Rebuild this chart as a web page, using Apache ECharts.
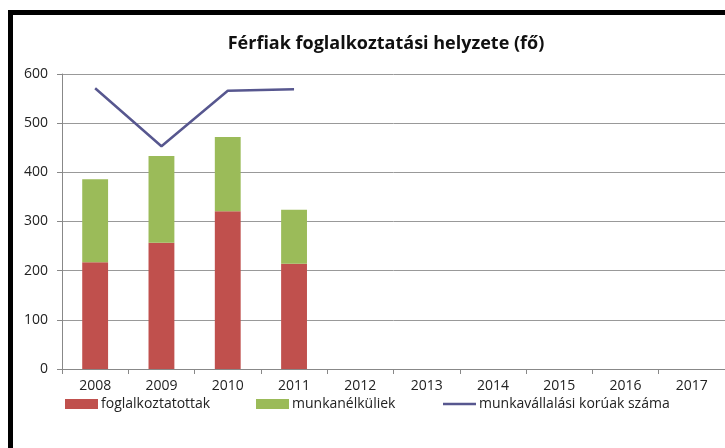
<!DOCTYPE html>
<html>
<head>
<meta charset="utf-8">
<script src="https://cdn.jsdelivr.net/npm/echarts@6/dist/echarts.min.js"></script>
<style>
  html, body { margin: 0; padding: 0; background: #fff; }
  #main { width: 725px; height: 448px; }
  /* fekete keret bal oldalon és fent */
  #frame { position: absolute; left: 8px; top: 10px; width: 740px; height: 460px;
           border-left: 5px solid #000; border-top: 5px solid #000; pointer-events: none; }
</style>
</head>
<body>
<div id="main"></div>
<div id="frame"></div>
<script>
// adatok
const years = ['2008', '2009', '2010', '2011', '2012', '2013', '2014', '2015', '2016', '2017']
const foglalkoztatottak = [217, 257, 321, 214, null, null, null, null, null, null]
const munkanelkuliek = [169, 176, 151, 110, null, null, null, null, null, null]
const korualkuak = [571, 453, 566, 569, null, null, null, null, null, null]
const yTicks = [0, 100, 200, 300, 400, 500, 600]

const font = "'Open Sans', 'Noto Sans', sans-serif"
const labelStyle = { fontFamily: font, fontSize: 14, color: '#222' }
const myChart = echarts.init(document.getElementById('main'))

// egy jelmagyarázat elem, külön pozícióval
const legendItem = (name, left, h) => ({
    left: left,
    top: 402 - 10,
    itemWidth: 33,
    itemHeight: h,
    itemGap: 0,
    textStyle: Object.assign({}, labelStyle, { padding: [0, 0, 0, -2] }),
    data: [{ name: name, icon: 'rect' }]
})

myChart.setOption({
    animation: false,
    title: {
        text: 'Férfiak foglalkoztatási helyzete (fő)',
        left: 381,
        top: 30,
        textAlign: 'center',
        textStyle: { fontFamily: font, fontSize: 18, fontWeight: 'bold', color: '#111' }
    },
    legend: [
        legendItem('foglalkoztatottak', 60, 10),
        legendItem('munkanélküliek', 251, 10),
        legendItem('munkavállalási korúak száma', 438, 2.5)
    ],
    grid: { left: 62, right: -8, top: 74, bottom: 79 },
    xAxis: {
        type: 'category',
        data: years,
        axisLine: { lineStyle: { color: '#888' } },
        axisTick: { show: true, length: 5, lineStyle: { color: '#888' } },
        axisLabel: Object.assign({ margin: 10 }, labelStyle)
    },
    yAxis: {
        type: 'value',
        min: yTicks[0],
        max: yTicks[yTicks.length - 1],
        interval: 100,
        axisLine: { show: true, lineStyle: { color: '#888' } },
        axisTick: { show: true, length: 5, lineStyle: { color: '#888' } },
        axisLabel: Object.assign({ margin: 14 }, labelStyle),
        splitLine: { lineStyle: { color: '#999' } }
    },
    series: [
        {
            name: 'foglalkoztatottak',
            type: 'bar',
            stack: 'ossz',
            barWidth: '39%',
            itemStyle: { color: '#C0504D' },
            data: foglalkoztatottak
        },
        {
            name: 'munkanélküliek',
            type: 'bar',
            stack: 'ossz',
            itemStyle: { color: '#9BBB59' },
            data: munkanelkuliek
        },
        {
            name: 'munkavállalási korúak száma',
            type: 'line',
            symbol: 'none',
            lineStyle: { color: '#57578F', width: 2.5 },
            itemStyle: { color: '#57578F' },
            data: korualkuak
        }
    ]
})
</script>
</body>
</html>
